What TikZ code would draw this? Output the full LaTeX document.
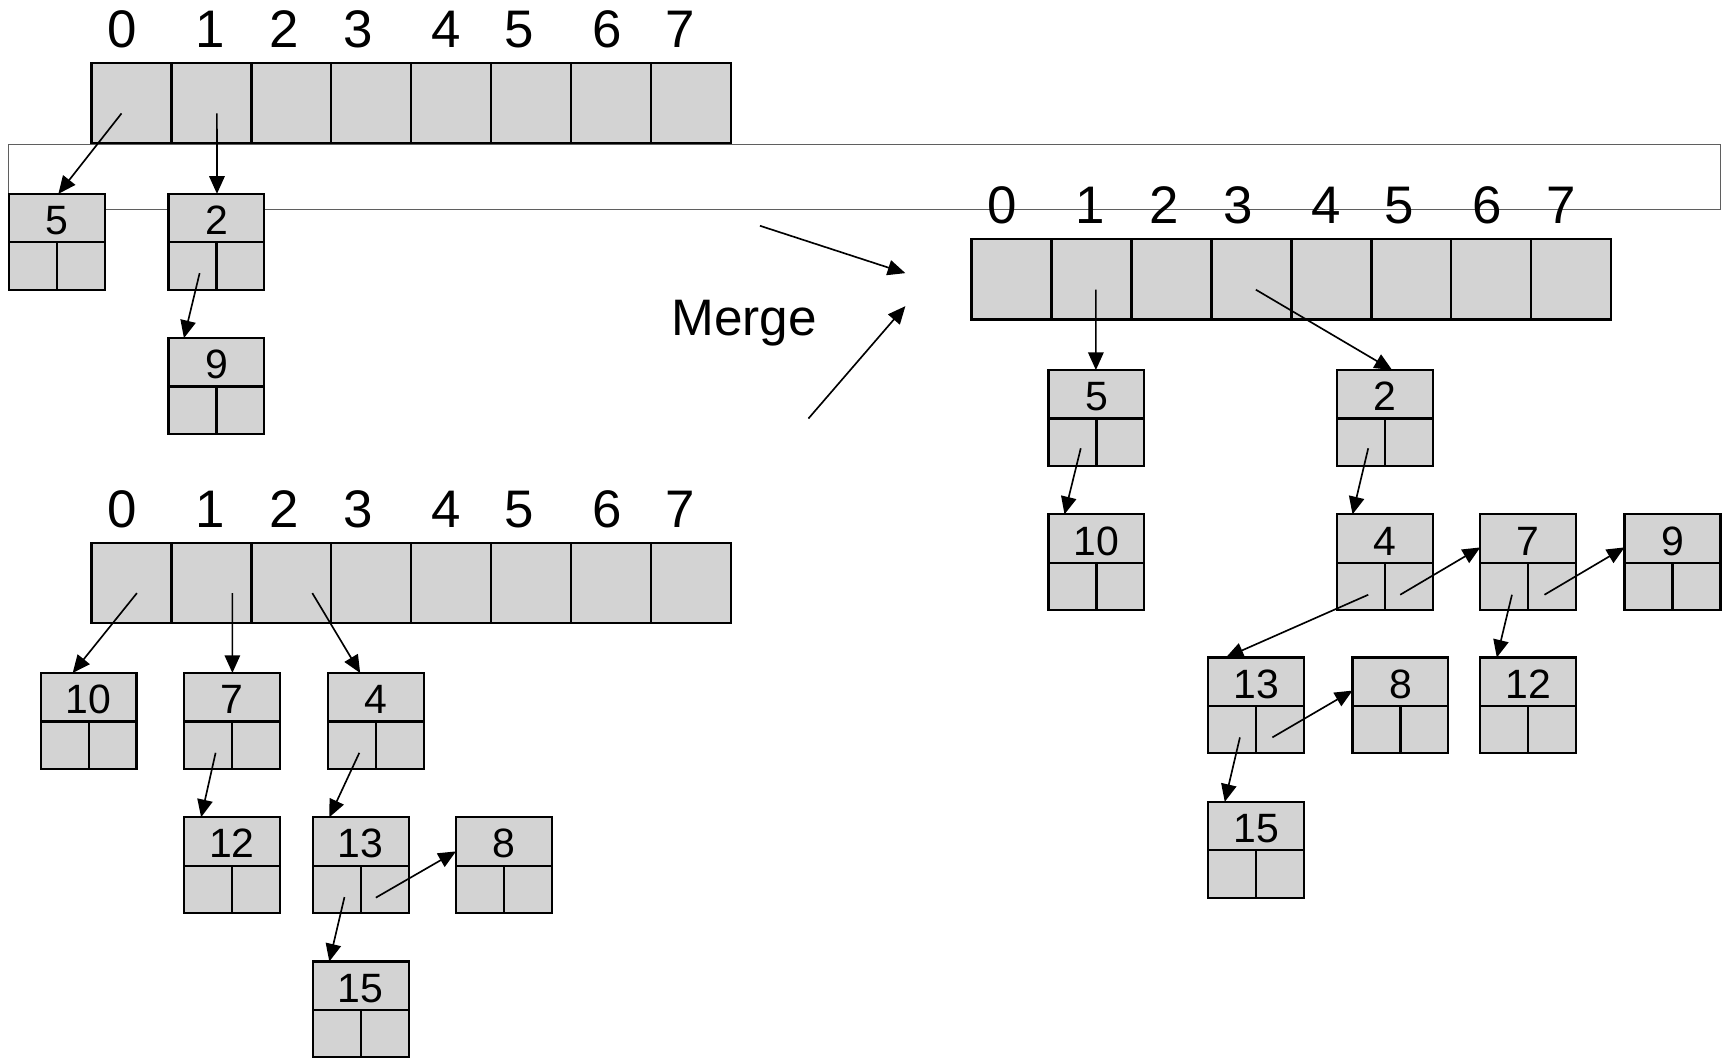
\documentclass[tikz,border=0pt]{standalone}
\usepackage{fontspec}
\setmainfont{Liberation Sans}
\usetikzlibrary{arrows.meta}
\definecolor{boxgray}{RGB}{211,211,211}
\definecolor{framegray}{RGB}{95,95,95}
\tikzset{
  cellbox/.style={draw=black, line width=1pt, fill=boxgray, inner sep=0pt, outer sep=0pt,
    minimum width=36.3125pt, minimum height=36.5pt},
  valbox/.style={draw=black, line width=1pt, fill=boxgray, inner sep=0pt, outer sep=0pt,
    minimum width=43.5pt, minimum height=22pt},
  valtxt/.style={inner sep=0pt, anchor=base, font=\fontsize{18.6pt}{18.6pt}\selectfont},
  halfbox/.style={draw=black, line width=1pt, fill=boxgray, inner sep=0pt, outer sep=0pt,
    minimum width=21.75pt, minimum height=21.5pt},
  idx/.style={inner sep=0pt, anchor=base, font=\fontsize{24pt}{24pt}\selectfont},
  mergelbl/.style={inner sep=0pt, anchor=base, font=\fontsize{23.3pt}{23.3pt}\selectfont},
  arr/.style={line width=0.75pt, -{Triangle[length=8pt,width=7pt]}},
  frame/.style={draw=framegray, line width=0.6pt}
}
\newcommand{\listbox}[4]{%
  \node[valbox] (#1-v) at ({#2+43.5},{#3+22}) {};
  \node[valtxt] (#1-t) at ({#2+43.5},{#3+37}) {#4};
  \node[halfbox] (#1-l) at ({#2+21.75},{#3+65.5}) {};
  \node[halfbox] (#1-r) at ({#2+65.25},{#3+65.5}) {};
}
\newcommand{\hashrow}[3]{%
  \foreach \i/\lx in {0/28,1/108,2/175,3/242,4/322,5/388,6/468,7/535} {
    \node[cellbox] (#1\i) at ({#2+36.3125+\i*72.625},{#3+36.5}) {};
    \node[idx] (#1l\i) at ({#2+\lx},{#3-13.7}) {\i};
  }
}
\begin{document}
\begin{tikzpicture}[x=0.5pt,y=-0.5pt]
\useasboundingbox (0,0) rectangle (1568,962);

% overlay frame
\draw[frame] (8,131) rectangle (1562,190);

% arrays
\hashrow{A}{83}{57}
\hashrow{B}{83}{493}
\hashrow{C}{882}{217}

% top-left heap
\listbox{b5a}{8}{176}{5}
\listbox{b2a}{153}{176}{2}
\listbox{b9a}{153}{307}{9}

% lower-left heap
\listbox{b10b}{37}{611}{10}
\listbox{b7b}{167}{611}{7}
\listbox{b4b}{298}{611}{4}
\listbox{b12b}{167}{742}{12}
\listbox{b13b}{284}{742}{13}
\listbox{b8b}{414}{742}{8}
\listbox{b15b}{284}{873}{15}

% right heap
\listbox{b5c}{952}{336}{5}
\listbox{b2c}{1214}{336}{2}
\listbox{b10c}{952}{467}{10}
\listbox{b4c}{1214}{467}{4}
\listbox{b7c}{1344}{467}{7}
\listbox{b9c}{1475}{467}{9}
\listbox{b13c}{1097}{597}{13}
\listbox{b8c}{1228}{597}{8}
\listbox{b12c}{1344}{597}{12}
\listbox{b15c}{1097}{728}{15}

% merge label and arrows
\node[mergelbl] (merge) at (675.6,304.2) {Merge};
\coordinate (m1s) at (690,205);
\coordinate (m1e) at (822,248);
\coordinate (m2s) at (734,380);
\coordinate (m2e) at (822,278);
\draw[arr] (m1s) -- (m1e);
\draw[arr] (m2s) -- (m2e);

% top-left arrows
\draw[arr] ([shift={(-9,9.5)}]A0.center) -- ([shift={(45,0)}]b5a-v.north west);
\draw[arr] ([shift={(5,9.5)}]A1.center) -- ([shift={(44,0)}]b2a-v.north west);
\draw[arr] ([shift={(6.5,6.5)}]b2a-l.center) -- ([shift={(14,0)}]b9a-v.north west);

% lower-left arrows
\draw[arr] ([shift={(5,9)}]B0.center) -- ([shift={(29,0)}]b10b-v.north west);
\draw[arr] ([shift={(19,9)}]B1.center) -- ([shift={(44,0)}]b7b-v.north west);
\draw[arr] ([shift={(19,9)}]B2.center) -- ([shift={(29,0)}]b4b-v.north west);
\draw[arr] ([shift={(7,7)}]b7b-l.center) -- ([shift={(15.6,0)}]b12b-v.north west);
\draw[arr] ([shift={(6.5,7)}]b4b-l.center) -- ([shift={(15,0)}]b13b-v.north west);
\draw[arr] ([shift={(7,7)}]b13b-l.center) -- ([shift={(15,0)}]b15b-v.north west);
\draw[arr] ([shift={(-8,7.5)}]b13b-r.center) -- ([shift={(0,31)}]b8b-v.north west);

% right arrows
\draw[arr] ([shift={(4,9.5)}]C1.center) -- ([shift={(43,0)}]b5c-v.north west);
\draw[arr] ([shift={(4,9.5)}]C3.center) -- ([shift={(50,0)}]b2c-v.north west);
\draw[arr] ([shift={(7.5,5.5)}]b5c-l.center) -- ([shift={(14.5,0)}]b10c-v.north west);
\draw[arr] ([shift={(6.5,5.5)}]b2c-l.center) -- ([shift={(14,0)}]b4c-v.north west);
\draw[arr] ([shift={(6.5,7.5)}]b4c-l.center) -- ([shift={(16,0)}]b13c-v.north west);
\draw[arr] ([shift={(-8,7.5)}]b4c-r.center) -- ([shift={(0,30)}]b7c-v.north west);
\draw[arr] ([shift={(-7,7.5)}]b7c-r.center) -- ([shift={(0,30)}]b9c-v.north west);
\draw[arr] ([shift={(7,7.5)}]b7c-l.center) -- ([shift={(15,0)}]b12c-v.north west);
\draw[arr] ([shift={(-7,7)}]b13c-r.center) -- ([shift={(0,30)}]b8c-v.north west);
\draw[arr] ([shift={(7,7)}]b13c-l.center) -- ([shift={(15,0)}]b15c-v.north west);
\end{tikzpicture}
\end{document}
